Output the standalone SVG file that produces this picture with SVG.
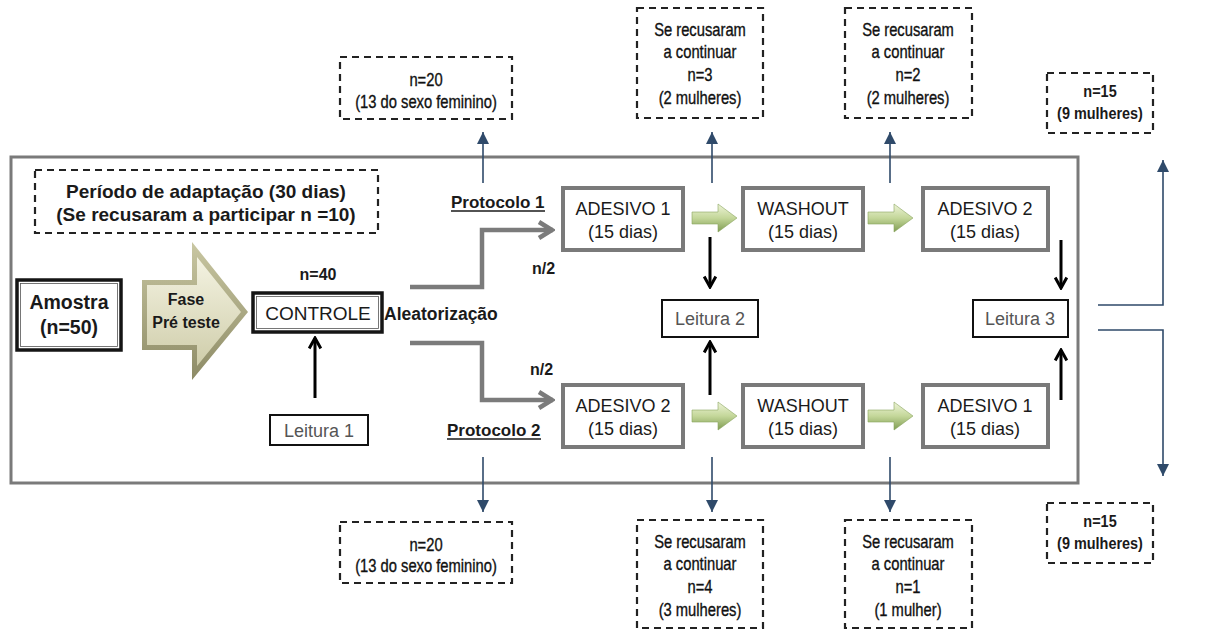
<svg xmlns="http://www.w3.org/2000/svg" width="1211" height="630" viewBox="0 0 1211 630">
<style>
text{font-family:"Liberation Sans",Arial,sans-serif;fill:#1a1a1a}
.dash{fill:#fff;stroke:#222;stroke-width:2.2;stroke-dasharray:7 5}
.nar{font-size:18px;text-anchor:middle;fill:#111;stroke:#111;stroke-width:0.35}
.nb{font-size:17px;font-weight:bold;text-anchor:middle}
.box{fill:#fff;stroke:#7a7a7a;stroke-width:4}
.bin{fill:none;stroke:#555;stroke-width:0.8}
.bt{font-size:18px;text-anchor:middle}
.rd{font-size:18px;fill:#555;text-anchor:middle}
.lbox{fill:#fff;stroke:#111;stroke-width:2}
.kbox{fill:#fff;stroke:#151515;stroke-width:3.5}
.blue{stroke:#2f4a6a;stroke-width:1.6;fill:none}
.blk{stroke:#000;stroke-width:3;fill:none}
.gray{stroke:#7b7b7b;stroke-width:4.5;fill:none}
</style>
<defs>
<marker id="mb" viewBox="0 0 10 10" refX="10" refY="5" markerWidth="12" markerHeight="12" markerUnits="userSpaceOnUse" orient="auto"><path d="M0,0 L10,5 L0,10 z" fill="#2f4a6a"/></marker>
<marker id="mk" viewBox="0 0 12 12" refX="10.5" refY="6" markerWidth="14" markerHeight="14" markerUnits="userSpaceOnUse" orient="auto"><path d="M1.5,1 L10.5,6 L1.5,11" fill="none" stroke="#000" stroke-width="2.6"/></marker>
<marker id="mg" viewBox="0 0 20 20" refX="18" refY="10" markerWidth="20" markerHeight="20" markerUnits="userSpaceOnUse" orient="auto"><path d="M4,2 L17,10 L4,18" fill="none" stroke="#7b7b7b" stroke-width="4.5"/></marker>
<linearGradient id="gk" x1="0" y1="0" x2="0" y2="1"><stop offset="0" stop-color="#c9c7a2"/><stop offset="1" stop-color="#8d8b66"/></linearGradient>
<linearGradient id="gk2" x1="0" y1="0" x2="0" y2="1"><stop offset="0" stop-color="#f4f3e2"/><stop offset="1" stop-color="#cfcdaa"/></linearGradient>
<linearGradient id="gg" x1="0" y1="0" x2="0" y2="1"><stop offset="0" stop-color="#eef4d8"/><stop offset="0.5" stop-color="#c4d79a"/><stop offset="1" stop-color="#7f9c52"/></linearGradient>
<g id="garrow"><path d="M0,-6 H26 V-14 L45,0 L26,14 V6 H0 Z" fill="url(#gg)" stroke="#8aa45f" stroke-width="0.6"/></g>
</defs>
<rect width="1211" height="630" fill="#fff"/>

<g id="frame"><rect x="11" y="157" width="1067" height="326" fill="none" stroke="#7a7a7a" stroke-width="3"/></g>

<g id="connectors">
<path class="blue" d="M483,183 V132" marker-end="url(#mb)"/>
<path class="blue" d="M712,183 V132" marker-end="url(#mb)"/>
<path class="blue" d="M890,183 V132" marker-end="url(#mb)"/>
<path class="blue" d="M483,457 V512" marker-end="url(#mb)"/>
<path class="blue" d="M712,457 V512" marker-end="url(#mb)"/>
<path class="blue" d="M890,457 V512" marker-end="url(#mb)"/>
<path class="blue" d="M1098,305 H1163 V160" marker-end="url(#mb)"/>
<path class="blue" d="M1098,330 H1163 V476" marker-end="url(#mb)"/>
<path class="blk" d="M710,237 V287" marker-end="url(#mk)"/>
<path class="blk" d="M710,395 V342" marker-end="url(#mk)"/>
<path class="blk" d="M1061,240 V288" marker-end="url(#mk)"/>
<path class="blk" d="M1061,400 V350" marker-end="url(#mk)"/>
<path class="blk" d="M315,398 V338" marker-end="url(#mk)"/>
<path class="gray" d="M410,287 H482 V230 H553" marker-end="url(#mg)"/>
<path class="gray" d="M410,343 H482 V400 H553" marker-end="url(#mg)"/>
<use href="#garrow" x="692" y="218"/>
<use href="#garrow" x="868" y="218"/>
<use href="#garrow" x="692" y="416"/>
<use href="#garrow" x="868" y="416"/>
</g>

<g id="n20top"><rect class="dash" x="340" y="57" width="172" height="62"/>
<g transform="translate(426,0) scale(0.82,1)"><text class="nar" x="0" y="86">n=20</text><text class="nar" x="0" y="108">(13 do sexo feminino)</text></g></g>

<g id="rec3"><rect class="dash" x="637" y="8" width="126" height="110"/>
<g transform="translate(700,0) scale(0.82,1)"><text class="nar" x="0" y="36">Se recusaram</text><text class="nar" x="0" y="58">a continuar</text><text class="nar" x="0" y="81">n=3</text><text class="nar" x="0" y="104">(2 mulheres)</text></g></g>

<g id="rec2"><rect class="dash" x="845" y="8" width="127" height="110"/>
<g transform="translate(908,0) scale(0.82,1)"><text class="nar" x="0" y="36">Se recusaram</text><text class="nar" x="0" y="58">a continuar</text><text class="nar" x="0" y="81">n=2</text><text class="nar" x="0" y="104">(2 mulheres)</text></g></g>

<g id="n15top"><rect class="dash" x="1047" y="73" width="106" height="60"/>
<g transform="translate(1100,0) scale(0.85,1)"><text class="nb" x="0" y="97">n=15</text><text class="nb" x="0" y="119">(9 mulheres)</text></g></g>

<g id="periodo"><rect class="dash" x="35" y="170" width="343" height="63"/>
<text x="206" y="198" font-size="19" font-weight="bold" text-anchor="middle">Período de adaptação (30 dias)</text>
<text x="206" y="221" font-size="19" font-weight="bold" text-anchor="middle">(Se recusaram a participar n =10)</text></g>

<g id="amostra"><rect class="kbox" x="17" y="280" width="104" height="70"/><rect class="bin" x="20.5" y="283.5" width="97" height="63"/>
<text x="69" y="309" font-size="19.5" font-weight="bold" text-anchor="middle">Amostra</text>
<text x="69" y="334" font-size="19.5" font-weight="bold" text-anchor="middle">(n=50)</text></g>

<g id="fase">
<path d="M142,280 H192 V242 L248,312 L192,380 V350 H142 Z" fill="url(#gk)"/>
<path d="M147,285 H197 V257 L241,312 L197,366 V345 H147 Z" fill="url(#gk2)"/>
<text x="186" y="305" font-size="16" font-weight="bold" text-anchor="middle" fill="#2a2a2a">Fase</text>
<text x="186" y="328" font-size="16" font-weight="bold" text-anchor="middle" fill="#2a2a2a">Pré teste</text></g>

<g id="controle"><text x="318" y="280" font-size="16" font-weight="bold" text-anchor="middle">n=40</text>
<rect class="kbox" x="253" y="293" width="129" height="39"/><rect class="bin" x="256.5" y="296.5" width="122" height="32"/>
<text x="318" y="319.5" font-size="19" text-anchor="middle">CONTROLE</text></g>

<g id="aleat"><text x="384" y="320" font-size="17.5" font-weight="bold">Aleatorização</text></g>

<g id="leitura1"><rect class="lbox" x="270" y="415" width="98" height="30"/><text class="rd" x="319" y="437">Leitura 1</text></g>

<g id="labels">
<text x="451" y="208" font-size="17" font-weight="bold">Protocolo 1</text><line x1="451" y1="211" x2="545" y2="211" stroke="#1a1a1a" stroke-width="1.4"/>
<text x="447" y="436" font-size="17" font-weight="bold">Protocolo 2</text><line x1="447" y1="439" x2="541" y2="439" stroke="#1a1a1a" stroke-width="1.4"/>
<text x="532" y="274" font-size="16" font-weight="bold">n/2</text>
<text x="530" y="375" font-size="16" font-weight="bold">n/2</text>
</g>

<g id="ades1top"><rect class="box" x="563" y="188" width="120" height="62"/><text class="bt" x="623" y="215">ADESIVO 1</text><text class="bt" x="623" y="238">(15 dias)</text></g>
<g id="wash1"><rect class="box" x="743" y="188" width="120" height="62"/><text class="bt" x="803" y="215">WASHOUT</text><text class="bt" x="803" y="238">(15 dias)</text></g>
<g id="ades2top"><rect class="box" x="923" y="188" width="125" height="62"/><text class="bt" x="985" y="215">ADESIVO 2</text><text class="bt" x="985" y="238">(15 dias)</text></g>

<g id="leitura2"><rect class="lbox" x="662" y="300" width="96" height="37"/><text class="rd" x="710" y="325">Leitura 2</text></g>
<g id="leitura3"><rect class="lbox" x="973" y="300" width="95" height="37"/><text class="rd" x="1020" y="325">Leitura 3</text></g>

<g id="ades2bot"><rect class="box" x="563" y="385" width="120" height="62"/><text class="bt" x="623" y="412">ADESIVO 2</text><text class="bt" x="623" y="435">(15 dias)</text></g>
<g id="wash2"><rect class="box" x="743" y="385" width="120" height="62"/><text class="bt" x="803" y="412">WASHOUT</text><text class="bt" x="803" y="435">(15 dias)</text></g>
<g id="ades1bot"><rect class="box" x="923" y="385" width="125" height="62"/><text class="bt" x="985" y="412">ADESIVO 1</text><text class="bt" x="985" y="435">(15 dias)</text></g>

<g id="n20bot"><rect class="dash" x="340" y="522" width="172" height="61"/>
<g transform="translate(426,0) scale(0.82,1)"><text class="nar" x="0" y="551">n=20</text><text class="nar" x="0" y="572">(13 do sexo feminino)</text></g></g>

<g id="rec4"><rect class="dash" x="637" y="520" width="126" height="108"/>
<g transform="translate(700,0) scale(0.82,1)"><text class="nar" x="0" y="548">Se recusaram</text><text class="nar" x="0" y="570">a continuar</text><text class="nar" x="0" y="593">n=4</text><text class="nar" x="0" y="616">(3 mulheres)</text></g></g>

<g id="rec1"><rect class="dash" x="845" y="520" width="127" height="108"/>
<g transform="translate(908,0) scale(0.82,1)"><text class="nar" x="0" y="548">Se recusaram</text><text class="nar" x="0" y="570">a continuar</text><text class="nar" x="0" y="593">n=1</text><text class="nar" x="0" y="616">(1 mulher)</text></g></g>

<g id="n15bot"><rect class="dash" x="1047" y="503" width="106" height="60"/>
<g transform="translate(1100,0) scale(0.85,1)"><text class="nb" x="0" y="527">n=15</text><text class="nb" x="0" y="549">(9 mulheres)</text></g></g>
</svg>
